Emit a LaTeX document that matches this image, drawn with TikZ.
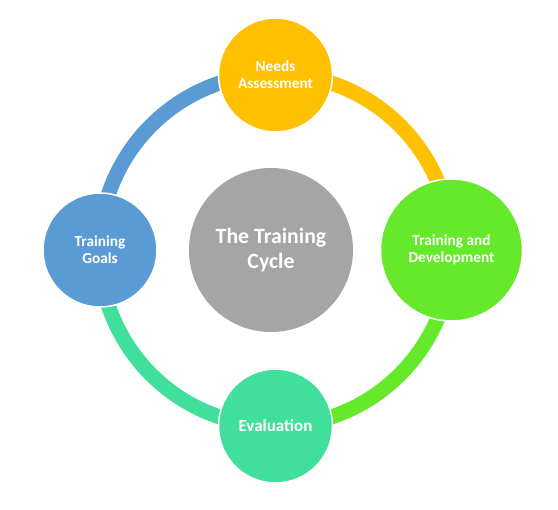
\documentclass[tikz,border=0pt]{standalone}
\usepackage{fontspec}
\setmainfont{Carlito}
\usetikzlibrary{calc}

\definecolor{needsc}{HTML}{FFC000}
\definecolor{devc}{HTML}{66E92A}
\definecolor{evalc}{HTML}{40DF9C}
\definecolor{goalsc}{HTML}{5B9BD5}
\definecolor{cyclec}{HTML}{A5A5A5}

\begin{document}
\begin{tikzpicture}[x=1pt, y=-1pt,
    ring/.style={line width=15pt},
    stage/.style={circle, fill=#1, draw=white, line width=1.5pt, text=white, align=center,
        inner sep=0pt, minimum size=114pt, font=\bfseries\fontsize{15.3}{17}\selectfont}]
    \useasboundingbox (0, 0) rectangle (558, 510);
    \coordinate (C) at (275.5, 250);

    \draw [ring, color=needsc] ($(C) + (0, -176)$) arc [start angle=-90, end angle=0, radius=176];
    \draw [ring, color=devc] ($(C) + (176, 0)$) arc [start angle=0, end angle=90, radius=176];
    \draw [ring, color=evalc] ($(C) + (0, 176)$) arc [start angle=90, end angle=180, radius=176];
    \draw [ring, color=goalsc] ($(C) + (-176, 0)$) arc [start angle=180, end angle=270, radius=176];

    \node [circle, fill=cyclec, inner sep=0pt, minimum size=164pt, text=white, align=center,
        font=\bfseries\fontsize{21.8}{25}\selectfont] (TC) at ($(C) + (-4.5, 0)$) {The Training\\Cycle};
        \node [stage=needsc] (NA) at ($(C) + (0, -175)$) {Needs\\Assessment};
        \node [stage=devc, minimum size=142pt] (TD) at ($(C) + (176, 0)$) {Training and\\Development};
        \node [stage=evalc, font=\bfseries\fontsize{17}{20}\selectfont] (EV) at ($(C) + (0, 176)$) {Evaluation};
        \node [stage=goalsc] (TG) at ($(C) + (-175.5, 0)$) {Training\\Goals};
\end{tikzpicture}
\end{document}
